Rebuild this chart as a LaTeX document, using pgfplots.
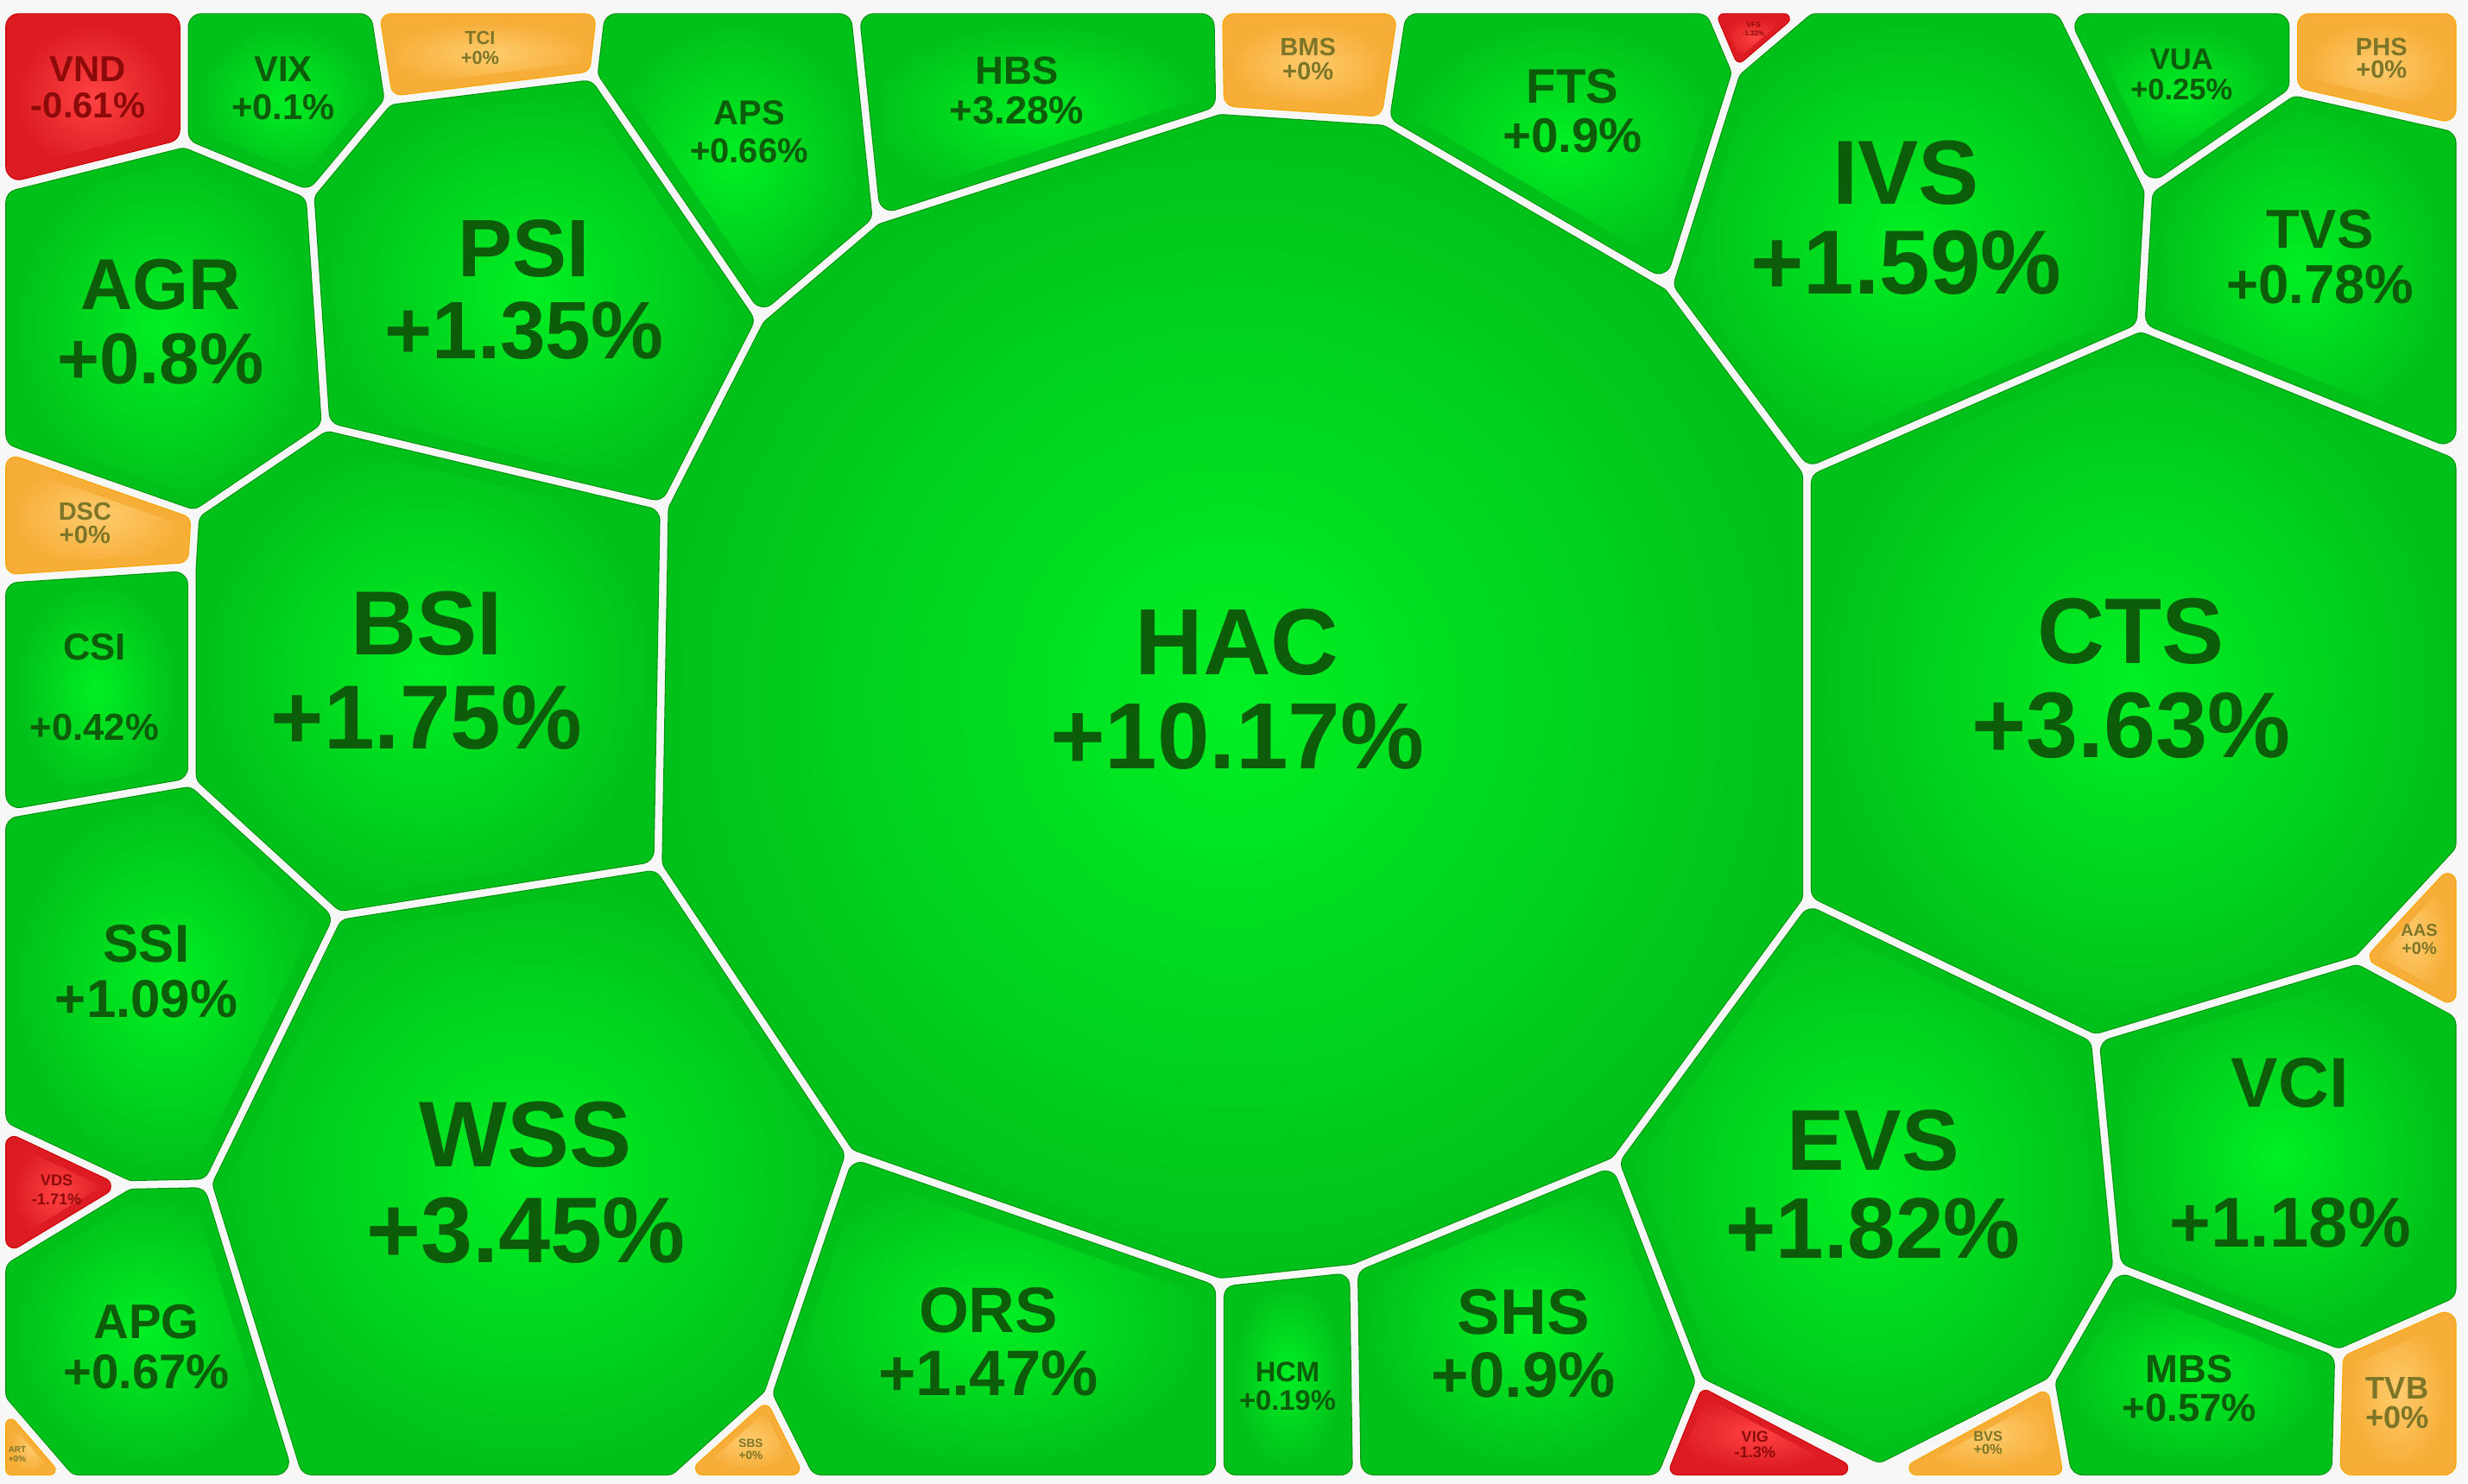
\documentclass[border=0pt]{standalone}
\usepackage{pgfplots}
\pgfplotsset{compat=1.18}
\usepackage{fontspec}
\setmainfont{Liberation Sans}
\definecolor{bgc}{RGB}{247,247,247}
\definecolor{gIn}{RGB}{0,240,36}
\definecolor{outG}{RGB}{0,192,26}
\definecolor{rimG}{RGB}{0,150,12}
\definecolor{rIn}{RGB}{255,66,66}
\definecolor{outR}{RGB}{220,28,34}
\definecolor{rimR}{RGB}{205,0,0}
\definecolor{oIn}{RGB}{255,204,110}
\definecolor{outO}{RGB}{247,174,56}
\definecolor{rimO}{RGB}{250,165,0}
\definecolor{tG}{RGB}{12,92,10}
\definecolor{tR}{RGB}{140,10,10}
\definecolor{tO}{RGB}{125,118,40}
\pgfdeclareradialshading{cellG}{\pgfpoint{0bp}{0bp}}{color(0bp)=(gIn); color(26bp)=(outG); color(50bp)=(outG)}
\pgfdeclareradialshading{cellR}{\pgfpoint{0bp}{0bp}}{color(0bp)=(rIn); color(26bp)=(outR); color(50bp)=(outR)}
\pgfdeclareradialshading{cellO}{\pgfpoint{0bp}{0bp}}{color(0bp)=(oIn); color(26bp)=(outO); color(50bp)=(outO)}
\ExplSyntaxOn
\seq_new:N \l__cz_pts_seq
\seq_new:N \l__cz_x_seq
\seq_new:N \l__cz_y_seq
\tl_new:N \g_cz_out_tl
\int_new:N \l__cz_n_int
\int_new:N \l__cz_p_int
\int_new:N \l__cz_q_int
\fp_new:N \l__cz_cx_fp
\fp_new:N \l__cz_cy_fp
\fp_new:N \l__cz_ux_fp
\fp_new:N \l__cz_uy_fp
\fp_new:N \l__cz_vx_fp
\fp_new:N \l__cz_vy_fp
\fp_new:N \l__cz_lu_fp
\fp_new:N \l__cz_lv_fp
\fp_new:N \l__cz_c_fp
\fp_new:N \l__cz_bx_fp
\fp_new:N \l__cz_by_fp
\fp_new:N \l__cz_lb_fp
\fp_new:N \l__cz_s_fp
\fp_new:N \l__cz_k_fp
\cs_new_protected:Npn \cz_inset:nn #1 #2
 {
  \seq_set_split:Nnn \l__cz_pts_seq { ; } { #2 }
  \seq_clear:N \l__cz_x_seq
  \seq_clear:N \l__cz_y_seq
  \seq_map_inline:Nn \l__cz_pts_seq
   {
    \seq_put_right:Nx \l__cz_x_seq { \clist_item:nn { ##1 } { 1 } }
    \seq_put_right:Nx \l__cz_y_seq { \clist_item:nn { ##1 } { 2 } }
   }
  \int_set:Nn \l__cz_n_int { \seq_count:N \l__cz_pts_seq }
  \tl_gclear:N \g_cz_out_tl
  \int_step_inline:nn { \l__cz_n_int }
   {
    \int_set:Nn \l__cz_p_int { \int_mod:nn { ##1 - 2 + \l__cz_n_int } { \l__cz_n_int } + 1 }
    \int_set:Nn \l__cz_q_int { \int_mod:nn { ##1 } { \l__cz_n_int } + 1 }
    \fp_set:Nn \l__cz_cx_fp { \seq_item:Nn \l__cz_x_seq { ##1 } }
    \fp_set:Nn \l__cz_cy_fp { \seq_item:Nn \l__cz_y_seq { ##1 } }
    \fp_set:Nn \l__cz_ux_fp { \seq_item:Nn \l__cz_x_seq { \l__cz_p_int } - \l__cz_cx_fp }
    \fp_set:Nn \l__cz_uy_fp { \seq_item:Nn \l__cz_y_seq { \l__cz_p_int } - \l__cz_cy_fp }
    \fp_set:Nn \l__cz_vx_fp { \seq_item:Nn \l__cz_x_seq { \l__cz_q_int } - \l__cz_cx_fp }
    \fp_set:Nn \l__cz_vy_fp { \seq_item:Nn \l__cz_y_seq { \l__cz_q_int } - \l__cz_cy_fp }
    \fp_set:Nn \l__cz_lu_fp { sqrt ( \l__cz_ux_fp ^ 2 + \l__cz_uy_fp ^ 2 ) }
    \fp_set:Nn \l__cz_lv_fp { sqrt ( \l__cz_vx_fp ^ 2 + \l__cz_vy_fp ^ 2 ) }
    \fp_set:Nn \l__cz_ux_fp { \l__cz_ux_fp / \l__cz_lu_fp }
    \fp_set:Nn \l__cz_uy_fp { \l__cz_uy_fp / \l__cz_lu_fp }
    \fp_set:Nn \l__cz_vx_fp { \l__cz_vx_fp / \l__cz_lv_fp }
    \fp_set:Nn \l__cz_vy_fp { \l__cz_vy_fp / \l__cz_lv_fp }
    \fp_set:Nn \l__cz_c_fp { \l__cz_ux_fp * \l__cz_vx_fp + \l__cz_uy_fp * \l__cz_vy_fp }
    \fp_set:Nn \l__cz_bx_fp { \l__cz_ux_fp + \l__cz_vx_fp }
    \fp_set:Nn \l__cz_by_fp { \l__cz_uy_fp + \l__cz_vy_fp }
    \fp_set:Nn \l__cz_lb_fp { sqrt ( \l__cz_bx_fp ^ 2 + \l__cz_by_fp ^ 2 ) }
    \fp_set:Nn \l__cz_s_fp { sqrt ( ( 1 - \l__cz_c_fp ) / 2 ) }
    \fp_set:Nn \l__cz_k_fp { #1 / \l__cz_s_fp / \l__cz_lb_fp }
    \tl_gput_right:Nx \g_cz_out_tl
     {
      ( \fp_eval:n { round ( \l__cz_cx_fp + \l__cz_bx_fp * \l__cz_k_fp , 2 ) } ,
        \fp_eval:n { round ( \l__cz_cy_fp + \l__cz_by_fp * \l__cz_k_fp , 2 ) } ) ~
     }
   }
 }
\NewDocumentCommand \czinset { m m } { \cz_inset:nn { #1 } { #2 } \tl_set_eq:NN \cellpts \g_cz_out_tl }
\ExplSyntaxOff
% #1 corner radius, #2 colour type, #3 polygon
\newcommand{\cell}[3][8]{\czinset{(#1+3)}{#3}%
\edef\tmpcell{\noexpand\addplot[line width=\fpeval{2*#1+1.2}bp, line join=round, fill=none, draw=rim#2] coordinates {\cellpts} -- cycle;
\noexpand\addplot[line width=\fpeval{2*#1}bp, line join=round, fill=none, draw=out#2] coordinates {\cellpts} -- cycle;
\noexpand\addplot[shade, shading=cell#2, draw=none] coordinates {\cellpts} -- cycle;}%
\tmpcell}
\newcommand{\lab}[7]{%
\node[text=#5,font=\fontsize{#4}{#4}\selectfont\bfseries,inner sep=0pt,anchor=center] at (axis cs:#1,#2) {#6};
\node[text=#5,font=\fontsize{#4}{#4}\selectfont\bfseries,inner sep=0pt,anchor=center] at (axis cs:#1,#3) {#7};}
\begin{document}
\begin{tikzpicture}
\begin{axis}[scale only axis, width=1568bp, height=943bp,
  xmin=0, xmax=1568, ymin=0, ymax=943, y dir=reverse, hide axis, clip=true,
  every axis plot/.append style={mark=none}]
\addplot[fill=bgc, draw=none] coordinates {(0,0) (1568,0) (1568,943) (0,943)} -- cycle;
\cell{R}{1,6; 117,6; 117,91; 1,120}
\cell{G}{117,6; 238,6; 247,64; 197,124; 117,91}
\cell[6]{O}{238,6; 382,6; 377,48; 247,64}
\cell{G}{382,6; 543,6; 557,140; 483,203; 377,48}
\cell{G}{543,6; 774,6; 775,70; 557,140}
\cell[7]{O}{774,6; 891,6; 880,77; 775,70}
\cell{G}{891,6; 1086,6; 1103,46; 1060,182; 880,77}
\cell[3]{R}{1086,6; 1150,6; 1103,46}
\cell{G}{1150,6; 1309,6; 1365,121; 1360,208; 1148,300; 1060,182; 1103,46}
\cell{G}{1309,6; 1457,6; 1457,58; 1365,121}
\cell[7]{O}{1457,6; 1563,6; 1563,82; 1457,58}
\cell{G}{1365,121; 1457,58; 1563,82; 1563,290; 1360,208}
\cell{G}{1,120; 117,91; 197,124; 207,271; 124,327; 1,284}
\cell{G}{197,124; 247,64; 377,48; 483,203; 422,322; 207,271}
\cell[6]{O}{1,284; 124,327; 122,360; 1,368}
\cell{G}{207,271; 422,322; 418,550; 215,582; 122,497; 122,360; 124,327}
\cell[9]{G}{483,203; 557,140; 775,70; 880,77; 1060,182; 1148,300; 1148,572; 1026,738; 860,806; 775,815; 540,733; 418,550; 422,322}
\cell{G}{1148,300; 1360,208; 1563,290; 1563,540; 1498,610; 1331,660; 1148,572}
\cell{G}{1,368; 122,360; 122,497; 1,518}
\cell{G}{1,518; 122,497; 215,582; 132,752; 82,753; 1,715}
\cell[5]{O}{1563,540; 1563,645; 1498,610}
\cell{G}{1331,660; 1498,610; 1563,645; 1563,826; 1486,860; 1345,805}
\cell{G}{215,582; 418,550; 540,733; 488,886; 428,940; 190,940; 132,752}
\cell{G}{1026,738; 1148,572; 1331,660; 1345,805; 1303,878; 1194,933; 1080,878}
\cell[5]{R}{1,715; 82,753; 1,802}
\cell{G}{1,802; 82,753; 132,752; 190,940; 45,940; 1,889}
\cell{G}{540,733; 775,815; 775,940; 515,940; 488,886}
\cell[7]{G}{775,815; 860,806; 862,940; 775,940}
\cell{G}{860,806; 1026,738; 1080,878; 1055,940; 862,940}
\cell{G}{1303,878; 1345,805; 1486,860; 1484,940; 1314,940}
\cell[7]{O}{1486,860; 1563,826; 1563,940; 1484,940}
\cell[4]{O}{488,886; 515,940; 428,940}
\cell[4]{R}{1080,878; 1198,940; 1055,940}
\cell[4]{O}{1190,940; 1303,878; 1314,940}
\cell[3]{O}{1,889; 45,940; 1,940}
\lab{56}{44}{67}{23}{tR}{VND}{-0.61\%}
\lab{180}{44}{68}{23}{tG}{VIX}{+0.1\%}
\lab{305}{24}{37}{12}{tO}{TCI}{+0\%}
\lab{476}{72}{96}{22}{tG}{APS}{+0.66\%}
\lab{646}{45}{70}{25}{tG}{HBS}{+3.28\%}
\lab{831}{30}{45}{16}{tO}{BMS}{+0\%}
\lab{999}{55}{86}{31}{tG}{FTS}{+0.9\%}
\lab{1114}{16}{21}{4.5}{tR}{VFS}{-1.32\%}
\lab{1211}{110}{167}{58}{tG}{IVS}{+1.59\%}
\lab{1386}{38}{57}{19}{tG}{VUA}{+0.25\%}
\lab{1513}{30}{44}{16}{tO}{PHS}{+0\%}
\lab{1474}{146}{181}{35}{tG}{TVS}{+0.78\%}
\lab{102}{181}{228}{46}{tG}{AGR}{+0.8\%}
\lab{333}{158}{210}{52}{tG}{PSI}{+1.35\%}
\lab{54}{325}{340}{16}{tO}{DSC}{+0\%}
\lab{271}{396}{456}{58}{tG}{BSI}{+1.75\%}
\lab{786}{408}{468}{60}{tG}{HAC}{+10.17\%}
\lab{1354}{401}{461}{59.5}{tG}{CTS}{+3.63\%}
\lab{60}{411}{462}{24}{tG}{CSI}{+0.42\%}
\lab{93}{600}{635}{34}{tG}{SSI}{+1.09\%}
\lab{1537}{591}{603}{11}{tO}{AAS}{+0\%}
\lab{1455}{688}{777}{45}{tG}{VCI}{+1.18\%}
\lab{334}{721}{782}{59.5}{tG}{WSS}{+3.45\%}
\lab{1190}{725}{781}{55}{tG}{EVS}{+1.82\%}
\lab{36}{750}{762}{10}{tR}{VDS}{-1.71\%}
\lab{93}{840}{872}{31}{tG}{APG}{+0.67\%}
\lab{628}{833}{873}{41}{tG}{ORS}{+1.47\%}
\lab{818}{872}{890}{18}{tG}{HCM}{+0.19\%}
\lab{968}{834}{874}{41}{tG}{SHS}{+0.9\%}
\lab{1391}{870}{895}{25}{tG}{MBS}{+0.57\%}
\lab{1523}{882}{901}{20}{tO}{TVB}{+0\%}
\lab{477}{917}{925}{7.5}{tO}{SBS}{+0\%}
\lab{1115}{913}{923}{10}{tR}{VIG}{-1.3\%}
\lab{1263}{913}{921}{9}{tO}{BVS}{+0\%}
\lab{11}{921}{927}{5.5}{tO}{ART}{+0\%}
\end{axis}
\end{tikzpicture}
\end{document}
